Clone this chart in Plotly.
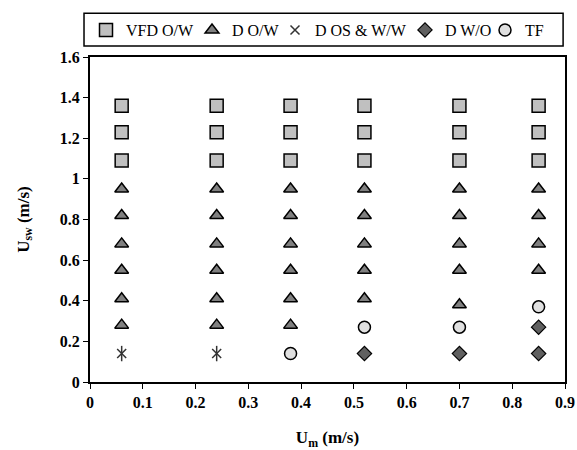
import plotly.graph_objects as go

# Data
vfd_ow_x = [0.06]*3 + [0.24]*3 + [0.38]*3 + [0.52]*3 + [0.70]*3 + [0.85]*3
vfd_ow_y = [1.36, 1.23, 1.09] * 6

d_ow_x = ([0.06]*6 + [0.24]*6 + [0.38]*6 + [0.52]*5 + [0.70]*5 + [0.85]*4)
d_ow_y = ([0.95, 0.82, 0.68, 0.55, 0.41, 0.28] * 3
          + [0.95, 0.82, 0.68, 0.55, 0.41]
          + [0.95, 0.82, 0.68, 0.55, 0.38]
          + [0.95, 0.82, 0.68, 0.55])

d_osww_x = [0.06, 0.24]
d_osww_y = [0.14, 0.14]

d_wo_x = [0.52, 0.70, 0.85, 0.85]
d_wo_y = [0.14, 0.14, 0.27, 0.14]

tf_x = [0.38, 0.52, 0.70, 0.85]
tf_y = [0.14, 0.27, 0.27, 0.37]

series_names = ["VFD O/W", "D O/W", "D OS & W/W", "D W/O", "TF"]

x_ticks = [0, 0.1, 0.2, 0.3, 0.4, 0.5, 0.6, 0.7, 0.8, 0.9]
x_tick_labels = ["0", "0.1", "0.2", "0.3", "0.4", "0.5", "0.6", "0.7", "0.8", "0.9"]
y_ticks = [0, 0.2, 0.4, 0.6, 0.8, 1.0, 1.2, 1.4, 1.6]
y_tick_labels = ["0", "0.2", "0.4", "0.6", "0.8", "1", "1.2", "1.4", "1.6"]

FONT = "Liberation Serif"

fig = go.Figure()
fig.add_trace(go.Scatter(x=vfd_ow_x, y=vfd_ow_y, mode="markers", name=series_names[0],
                         legend="legend",
                         marker=dict(symbol="square", size=13, color="#c0c0c0",
                                     line=dict(color="black", width=1.5))))
fig.add_trace(go.Scatter(x=d_ow_x, y=d_ow_y, mode="markers", name=series_names[1],
                         legend="legend2",
                         marker=dict(symbol="triangle-up", size=12, color="#808080",
                                     line=dict(color="black", width=1.5))))
fig.add_trace(go.Scatter(x=d_osww_x, y=d_osww_y, mode="markers", name=series_names[2],
                         legend="legend3", legendgroup="osww",
                         marker=dict(symbol="x-thin-open", size=9, color="#333333",
                                     line=dict(color="#333333", width=1.5))))
fig.add_trace(go.Scatter(x=d_osww_x, y=d_osww_y, mode="markers", name=series_names[2],
                         legend="legend3", legendgroup="osww", showlegend=False,
                         marker=dict(symbol="line-ns-open", size=11, color="#333333",
                                     line=dict(color="#333333", width=1.5))))
fig.add_trace(go.Scatter(x=d_wo_x, y=d_wo_y, mode="markers", name=series_names[3],
                         legend="legend4",
                         marker=dict(symbol="diamond", size=11, color="#606060",
                                     line=dict(color="black", width=1.2))))
fig.add_trace(go.Scatter(x=tf_x, y=tf_y, mode="markers", name=series_names[4],
                         legend="legend5",
                         marker=dict(symbol="circle", size=12, color="#e0e0e0",
                                     line=dict(color="black", width=1.5))))

# legend entry text start positions (pixels) -> paper fractions
text_starts = [126, 232, 315, 445, 525]
plot_left, plot_w = 90, 475


def leg(px):
    return dict(orientation="h", x=(px - 40 - plot_left) / plot_w, xanchor="left",
                y=1.083, yanchor="middle",
                font=dict(family=FONT, size=16, color="black"),
                bgcolor="rgba(0,0,0,0)", borderwidth=0, itemwidth=30,
                tracegroupgap=0)


fig.update_layout(
    width=577, height=450,
    margin=dict(l=90, r=12, t=57, b=68, autoexpand=False),
    paper_bgcolor="white", plot_bgcolor="white",
    font=dict(family=FONT, color="black"),
    showlegend=True,
    legend=leg(text_starts[0]),
    legend2=leg(text_starts[1]),
    legend3=leg(text_starts[2]),
    legend4=leg(text_starts[3]),
    legend5=leg(text_starts[4]),
    shapes=[dict(type="rect", xref="paper", yref="paper",
                 x0=-0.0126, x1=0.996, y0=1.034, y1=1.135,
                 line=dict(color="black", width=1.5))],
)

fig.update_xaxes(range=[0, 0.9], tickvals=x_ticks,
                 ticktext=["<b>%s</b>" % t for t in x_tick_labels],
                 showgrid=False, zeroline=False, showline=True, linecolor="black",
                 linewidth=2, mirror=True, ticks="outside", ticklen=5,
                 tickcolor="black", tickwidth=1,
                 tickfont=dict(family=FONT, size=16, color="black"),
                 title=dict(text="<b>U<sub>m</sub> (m/s)</b>",
                            font=dict(family=FONT, size=17, color="black"),
                            standoff=26))
fig.update_yaxes(range=[0, 1.6], tickvals=y_ticks,
                 ticktext=["<b>%s</b>" % t for t in y_tick_labels],
                 showgrid=False, zeroline=False, showline=True, linecolor="black",
                 linewidth=2, mirror=True, ticks="outside", ticklen=5,
                 tickcolor="black", tickwidth=1,
                 tickfont=dict(family=FONT, size=16, color="black"),
                 title=dict(text="<b>U<sub>sw</sub> (m/s)</b>",
                            font=dict(family=FONT, size=17, color="black"),
                            standoff=26))

fig.write_html("out.html")
